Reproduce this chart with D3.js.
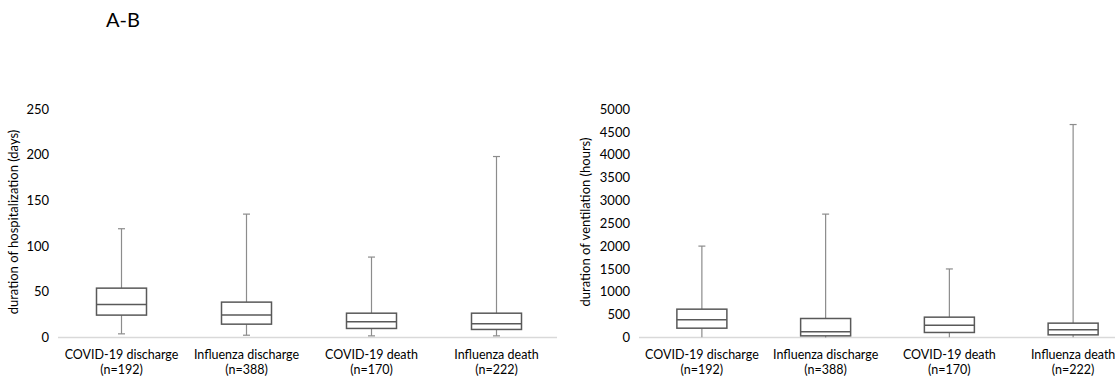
<!doctype html>
<html>
<head>
<meta charset="utf-8">
<script src="https://cdn.jsdelivr.net/npm/d3@7"></script>
<style>
  body { margin: 0; background: #fff; }
  text { font-family: Lato, "Open Sans", sans-serif; fill: #000; }
  .tick text { font-size: 13px; }
  .cat { font-size: 12.5px; }
  .ytitle { font-size: 13px; }
</style>
</head>
<body>
<script>
// categories shared by both panels
var categories = ["COVID-19 discharge", "Influenza discharge", "COVID-19 death", "Influenza death"];
var counts = ["(n=192)", "(n=388)", "(n=170)", "(n=222)"];

// panel A: duration of hospitalization (days)
var hospMin = [4, 2.5, 1.8, 1.8];
var hospQ1 = [24.5, 14.6, 9.9, 8.8];
var hospMed = [36, 24.5, 17.2, 15];
var hospQ3 = [54, 38.7, 26.6, 26.6];
var hospMax = [119, 135, 88, 198];
var hospTicks = [0, 50, 100, 150, 200, 250];

// panel B: duration of ventilation (hours)
var ventMin = [5, 0, 5, 5];
var ventQ1 = [204, 36, 110, 58];
var ventMed = [387, 124, 270, 168];
var ventQ3 = [620, 416, 445, 314];
var ventMax = [2000, 2700, 1500, 4660];
var ventTicks = [0, 500, 1000, 1500, 2000, 2500, 3000, 3500, 4000, 4500, 5000];

var W = 1115, H = 376;
var svg = d3.select("body").append("svg").attr("width", W).attr("height", H);

svg.append("text")
   .attr("x", 106).attr("y", 27)
   .style("font-size", "20px")
   .text("A-B");

function boxPanel(opt) {
  var x = d3.scaleBand().domain(categories).range(opt.xr).padding(0);
  var y = d3.scaleLinear().domain([0, opt.ticks[opt.ticks.length - 1]]).range([337.5, 109]);
  var bw = 50;

  var g = svg.append("g");

  // baseline
  g.append("line")
   .attr("x1", opt.xr[0] - 1).attr("x2", opt.lineEnd)
   .attr("y1", y(0)).attr("y2", y(0))
   .attr("stroke", "#d9d9d9").attr("stroke-width", 1.5);

  // y axis labels only
  var ax = g.append("g")
    .attr("transform", "translate(" + opt.tickX + ",0)")
    .call(d3.axisLeft(y).tickValues(opt.ticks).tickFormat(d3.format("d")).tickSize(0).tickPadding(0));
  ax.select(".domain").remove();

  g.append("text")
   .attr("class", "ytitle")
   .attr("text-anchor", "middle")
   .attr("transform", "translate(" + opt.titleX + ",222) rotate(-90)")
   .text(opt.title);

  var rows = categories.map(function(c, i) {
    return {cat: c, n: counts[i], lo: opt.min[i], q1: opt.q1[i], med: opt.med[i], q3: opt.q3[i], hi: opt.max[i]};
  });

  var b = g.selectAll(".box").data(rows).enter().append("g")
    .attr("class", "box")
    .attr("transform", function(d) { return "translate(" + (x(d.cat) + x.bandwidth() / 2) + ",0)"; });

  // whiskers
  b.append("line").attr("x1", 0).attr("x2", 0)
   .attr("y1", function(d) { return y(d.q3); }).attr("y2", function(d) { return y(d.hi); })
   .attr("stroke", "#8c8c8c").attr("stroke-width", 1.2);
  b.append("line").attr("x1", 0).attr("x2", 0)
   .attr("y1", function(d) { return y(d.q1); }).attr("y2", function(d) { return y(d.lo); })
   .attr("stroke", "#8c8c8c").attr("stroke-width", 1.2);
  // caps
  b.append("line").attr("x1", -3.5).attr("x2", 3.5)
   .attr("y1", function(d) { return y(d.hi); }).attr("y2", function(d) { return y(d.hi); })
   .attr("stroke", "#8c8c8c").attr("stroke-width", 1.2);
  if (opt.lowCaps) {
    b.append("line").attr("x1", -3.5).attr("x2", 3.5)
     .attr("y1", function(d) { return y(d.lo); }).attr("y2", function(d) { return y(d.lo); })
     .attr("stroke", "#8c8c8c").attr("stroke-width", 1.2);
  }

  // box
  b.append("rect")
   .attr("x", -bw / 2).attr("width", bw)
   .attr("y", function(d) { return y(d.q3); })
   .attr("height", function(d) { return y(d.q1) - y(d.q3); })
   .attr("fill", "#fff").attr("stroke", "#595959").attr("stroke-width", 1.5);
  b.append("line").attr("x1", -bw / 2).attr("x2", bw / 2)
   .attr("y1", function(d) { return y(d.med); }).attr("y2", function(d) { return y(d.med); })
   .attr("stroke", "#595959").attr("stroke-width", 1.5);

  // category labels
  b.append("text").attr("class", "cat").attr("text-anchor", "middle")
   .attr("y", 359).text(function(d) { return d.cat; });
  b.append("text").attr("class", "cat").attr("text-anchor", "middle")
   .attr("y", 374).text(function(d) { return d.n; });
}

boxPanel({xr: [59, 559], lineEnd: 557, tickX: 49, titleX: 18, ticks: hospTicks,
  min: hospMin, q1: hospQ1, med: hospMed, q3: hospQ3, max: hospMax,
  title: "duration of hospitalization (days)", lowCaps: true});

boxPanel({xr: [640, 1135], lineEnd: 1115, tickX: 630, titleX: 590, ticks: ventTicks,
  min: ventMin, q1: ventQ1, med: ventMed, q3: ventQ3, max: ventMax,
  title: "duration of ventilation (hours)", lowCaps: false});
</script>
</body>
</html>
